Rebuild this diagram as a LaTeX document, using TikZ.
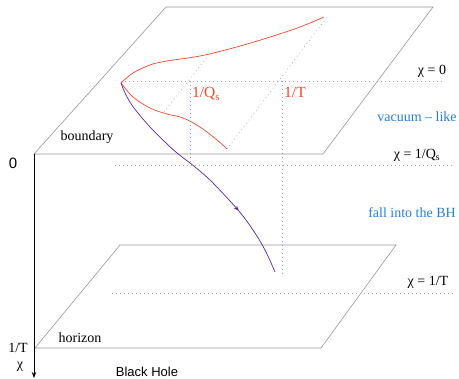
\documentclass[tikz,border=0pt]{standalone}
\usepackage{fontspec}
\setmainfont{Liberation Serif}
\setsansfont{Liberation Sans}
\usetikzlibrary{arrows.meta,decorations.markings}
\definecolor{planegray}{RGB}{150,150,150}
\definecolor{dotgray}{RGB}{165,165,165}
\definecolor{dotblue}{RGB}{140,155,245}
\definecolor{curvered}{RGB}{245,70,45}
\definecolor{labelblue}{RGB}{40,125,215}
\definecolor{fallpurple}{RGB}{85,40,160}
\begin{document}
\begin{tikzpicture}[x=1pt,y=-1pt,
  plane/.style={draw=planegray,line width=0.6pt},
  chiline/.style={draw=dotgray,line width=0.6pt,dash pattern=on 0.8pt off 3.2pt},
  guide/.style={draw=dotblue,line width=0.6pt,dash pattern=on 0.8pt off 3.2pt},
  redcurve/.style={draw=curvered,line width=0.7pt},
  lbl/.style={inner sep=0pt,font=\fontsize{14}{16}\selectfont},
  sflbl/.style={inner sep=0pt,font=\sffamily\fontsize{13}{15}\selectfont},
  redlbl/.style={inner sep=0pt,text=curvered,font=\fontsize{15.5}{17}\selectfont},
  bluelbl/.style={inner sep=0pt,text=labelblue,font=\fontsize{14}{16}\selectfont}]
\useasboundingbox (0,0) rectangle (459,379);

% planes
\draw[plane] (34,154) -- (323,154) -- (433,7) -- (166,7) -- cycle;
\draw[plane] (35,348) -- (321,348) -- (396,245) -- (120,245) -- cycle;

% chi levels
\coordinate (c0a) at (121,81);  \coordinate (c0b) at (443,81);
\coordinate (cqa) at (115,165); \coordinate (cqb) at (453,165);
\coordinate (cta) at (112,293); \coordinate (ctb) at (453,293);
\draw[chiline] (c0a) -- (c0b);
\draw[chiline] (cqa) -- (cqb);
\draw[chiline] (cta) -- (ctb);

% guides
\coordinate (g1a) at (190,81);  \coordinate (g1b) at (190,165);
\coordinate (g2a) at (282,81);  \coordinate (g2b) at (282,277);
\coordinate (d1a) at (164,112); \coordinate (d1b) at (207,57);
\coordinate (d2a) at (227,149); \coordinate (d2b) at (327,17);
\draw[guide] (g1a) -- (g1b);
\draw[guide] (g2a) -- (g2b);
\draw[guide] (d1a) -- (d1b);
\draw[guide] (d2a) -- (d2b);

% red curves
\coordinate (src) at (121,83);
\draw[redcurve] plot[smooth,tension=0.6] coordinates {(121,83) (133,73) (150,65) (167,61) (200,56) (233,48) (267,38) (300,27) (324,17)};
\draw[redcurve] plot[smooth,tension=0.6] coordinates {(121,83) (133,97) (150,108) (167,114) (183,118) (200,127) (217,140) (227,149)};

% purple falling curve
\draw[draw=fallpurple,line width=0.7pt,
  postaction={decorate},
  decoration={markings,mark=at position 0.71 with {\arrow[fallpurple]{Stealth[length=5pt,width=4pt]}}}]
  plot[smooth,tension=0.6] coordinates {(121,83) (126,95) (134,108) (150,127) (165,142) (177,153) (190,163) (201,172) (213,183) (238,210) (253,230) (265,250) (275,272)};

% axis
\coordinate (ax0) at (34,154);
\coordinate (ax1) at (34,378);
\draw[line width=0.9pt,-{Stealth[length=6pt,width=4.5pt]}] (ax0) -- (ax1);

% labels
\node[lbl] (chi0) at (432,71) {χ = 0};
\node[lbl] (chiq) at (417,155) {χ = 1/Q\textsubscript{s}};
\node[lbl] (chit) at (428,282) {χ = 1/T};
\node[bluelbl] (vac) at (417,117) {vacuum – like};
\node[bluelbl] (fall) at (412,213) {fall into the BH};
\node[redlbl] (rq) at (206,94) {1/Q\textsubscript{s}};
\node[redlbl] (rt) at (295,92) {1/T};
\node[lbl] (bnd) at (87,137) {boundary};
\node[lbl] (hor) at (80,338) {horizon};
\node[lbl] (oneT) at (18,348) {1/T};
\node[lbl] (chiax) at (20,367) {χ};
\node[sflbl,font=\sffamily\fontsize{15}{17}\selectfont] (zero) at (13,163) {0};
\node[sflbl] (bh) at (147,372) {Black Hole};
\end{tikzpicture}
\end{document}
